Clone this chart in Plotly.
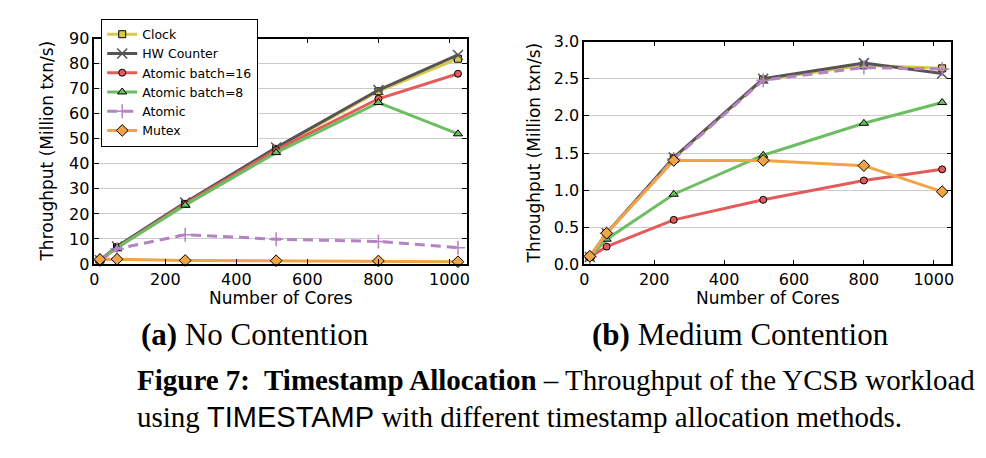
import plotly.graph_objects as go

W, H = 986, 458

cores = [16, 64, 256, 512, 800, 1024]
series_names = ["Clock", "HW Counter", "Atomic batch=16", "Atomic batch=8", "Atomic", "Mutex"]

# (a) No Contention
clock_a = [1.5, 6.7, 24.0, 46.0, 69.0, 82.0]
hw_a = [1.5, 7.0, 24.5, 46.5, 69.5, 83.5]
b16_a = [1.5, 6.5, 24.0, 45.5, 66.0, 76.0]
b8_a = [1.5, 6.5, 23.5, 44.5, 64.5, 52.0]
atomic_a = [1.5, 6.0, 11.7, 9.9, 9.0, 6.5]
mutex_a = [1.8, 1.9, 1.4, 1.3, 1.2, 0.9]

# (b) Medium Contention
clock_b = [0.10, 0.42, 1.43, 2.49, 2.68, 2.64]
hw_b = [0.10, 0.42, 1.44, 2.50, 2.71, 2.57]
b16_b = [0.10, 0.24, 0.60, 0.87, 1.13, 1.28]
b8_b = [0.10, 0.34, 0.945, 1.47, 1.90, 2.18]
atomic_b = [0.10, 0.42, 1.42, 2.48, 2.65, 2.63]
mutex_b = [0.11, 0.42, 1.40, 1.40, 1.33, 0.98]

x_ticks = [0, 200, 400, 600, 800, 1000]
y_ticks_a = [0, 10, 20, 30, 40, 50, 60, 70, 80, 90]
y_ticks_b = [0.0, 0.5, 1.0, 1.5, 2.0, 2.5, 3.0]

styles = [
    dict(color="#D9C94A", symbol="square", size=7, lw=1, lc="black", dash="solid"),
    dict(color="#555555", symbol="x-thin", size=10, lw=1.5, lc="#555555", dash="solid"),
    dict(color="#E35B5B", symbol="circle", size=7, lw=1, lc="black", dash="solid"),
    dict(color="#6DBE62", symbol="triangle-up", size=8, lw=1, lc="black", dash="solid"),
    dict(color="#B583C3", symbol="cross-thin", size=10, lw=1.5, lc="#B583C3", dash="10px,6px"),
    dict(color="#F0A445", symbol="diamond", size=9, lw=1, lc="black", dash="solid"),
]

def px_x(x):
    return x / W

def px_y(y):
    return 1 - y / H

fig = go.Figure()

data_a = [clock_a, hw_a, b16_a, b8_a, atomic_a, mutex_a]
data_b = [clock_b, hw_b, b16_b, b8_b, atomic_b, mutex_b]

for name, ya, st in zip(series_names, data_a, styles):
    fig.add_trace(go.Scatter(
        x=cores, y=ya, name=name, mode="lines+markers",
        line=dict(color=st["color"], width=3, dash=st["dash"]),
        marker=dict(symbol=st["symbol"], size=st["size"], color=st["color"],
                    line=dict(color=st["lc"], width=st["lw"])),
        xaxis="x", yaxis="y", showlegend=True, cliponaxis=False,
    ))
for name, yb, st in zip(series_names, data_b, styles):
    fig.add_trace(go.Scatter(
        x=cores, y=yb, name=name, mode="lines+markers",
        line=dict(color=st["color"], width=3, dash=st["dash"]),
        marker=dict(symbol=st["symbol"], size=st["size"], color=st["color"],
                    line=dict(color=st["lc"], width=st["lw"])),
        xaxis="x2", yaxis="y2", showlegend=False, cliponaxis=False,
    ))

tick_font = dict(family="DejaVu Sans", size=16, color="black")
axis_common = dict(
    showline=True, linecolor="black", linewidth=1.5, mirror="allticks",
    ticks="inside", ticklen=5, tickwidth=1, tickcolor="black",
    tickfont=tick_font, zeroline=False,
)

fig.update_layout(
    width=W, height=H,
    margin=dict(l=0, r=0, t=0, b=0),
    paper_bgcolor="white", plot_bgcolor="white",
    showlegend=True,
    legend=dict(
        x=px_x(97), y=px_y(10), xanchor="left", yanchor="top",
        bgcolor="white", bordercolor="black", borderwidth=1,
        font=dict(family="DejaVu Sans", size=12.5, color="black"),
    ),
    xaxis=dict(domain=[px_x(90), px_x(466)], range=[0, 1050],
               tickvals=x_ticks, showgrid=False, anchor="y", **axis_common),
    yaxis=dict(domain=[px_y(266), px_y(31)], range=[0, 90],
               tickvals=y_ticks_a, showgrid=True, gridcolor="#cccccc", gridwidth=1,
               anchor="x", **axis_common),
    xaxis2=dict(domain=[px_x(584), px_x(954)], range=[0, 1050],
                tickvals=x_ticks, showgrid=False, anchor="y2", **axis_common),
    yaxis2=dict(domain=[px_y(266.5), px_y(34)], range=[0, 3.0],
                tickvals=y_ticks_b, tickformat=".1f", showgrid=True,
                gridcolor="#cccccc", gridwidth=1, anchor="x2", **axis_common),
)

title_font = dict(family="DejaVu Sans", size=17, color="black")
ann = []
ann.append(dict(text="Number of Cores", x=px_x(278), y=px_y(302), xref="paper", yref="paper",
                showarrow=False, font=title_font, xanchor="center", yanchor="middle"))
ann.append(dict(text="Number of Cores", x=px_x(769), y=px_y(302), xref="paper", yref="paper",
                showarrow=False, font=title_font, xanchor="center", yanchor="middle"))
ann.append(dict(text="Throughput (Million txn/s)", x=px_x(42), y=px_y(148), xref="paper", yref="paper",
                showarrow=False, font=title_font, textangle=-90, xanchor="center", yanchor="middle"))
ann.append(dict(text="Throughput (Million txn/s)", x=px_x(533), y=px_y(150), xref="paper", yref="paper",
                showarrow=False, font=title_font, textangle=-90, xanchor="center", yanchor="middle"))

serif = dict(family="Liberation Serif", color="black")
ann.append(dict(text="<b>(a)</b> No Contention", x=px_x(252), y=px_y(340), xref="paper", yref="paper",
                showarrow=False, font=dict(size=31, **serif), xanchor="center", yanchor="middle"))
ann.append(dict(text="<b>(b)</b> Medium Contention", x=px_x(742), y=px_y(340), xref="paper", yref="paper",
                showarrow=False, font=dict(size=31, **serif), xanchor="center", yanchor="middle"))
ann.append(dict(text="<b>Figure 7:  Timestamp Allocation</b> – Throughput of the YCSB workload",
                x=px_x(131), y=px_y(387), xref="paper", yref="paper",
                showarrow=False, font=dict(size=29, **serif), xanchor="left", yanchor="middle"))
ann.append(dict(text="using <span style=\"font-family:'Liberation Sans'\">TIMESTAMP</span> with different timestamp allocation methods.",
                x=px_x(131), y=px_y(426), xref="paper", yref="paper",
                showarrow=False, font=dict(size=29, **serif), xanchor="left", yanchor="middle"))
fig.update_layout(annotations=ann)

fig.write_html("out.html", config={"displayModeBar": False},
               post_script="document.body.style.margin='0';document.body.style.padding='0';document.body.style.overflow='hidden';")
